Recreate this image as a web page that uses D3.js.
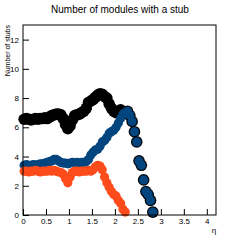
<!DOCTYPE html>
<html>
<head>
<meta charset="utf-8">
<script src="https://cdn.jsdelivr.net/npm/d3@7"></script>
<style>
  body { margin: 0; background: #fff; }
  svg { display: block; font-family: "Liberation Sans", Arial, sans-serif; }
</style>
</head>
<body>
<div id="chart"></div>
<script>
// eta bin centres (step 0.05)
const etaAll = d3.range(0, 57).map(i => +(0.025 + i * 0.05).toFixed(3));

// all modules with a stub (black)
const blackValues = [6.55, 6.6, 6.55, 6.5, 6.55, 6.6, 6.55, 6.6, 6.6, 6.65,
  6.6, 6.7, 6.8, 6.85, 6.9, 6.9, 6.85, 6.6, 6.2, 5.9,
  6.1, 6.5, 6.8, 6.85, 6.9, 7.0, 7.1, 7.3, 7.7, 7.8,
  7.9, 8.05, 8.2, 8.3, 8.25, 8.1, 8.0, 7.6, 7.3, 7.1,
  7.0, 7.1, 7.2, 7.05, 7.0, 7.1, 6.8, 6.4, 5.7, 5.0,
  3.7, 3.4, 2.4, 1.6, 1.4, 1.0, 0.2];

// blue series
const blueValues = [3.4, 3.45, 3.4, 3.4, 3.45, 3.4, 3.45, 3.5, 3.5, 3.55,
  3.6, 3.65, 3.7, 3.8, 3.8, 3.7, 3.6, 3.55, 3.55, 3.5,
  3.55, 3.6, 3.55, 3.6, 3.55, 3.6, 3.6, 3.65, 3.8, 4.1,
  4.3, 4.45, 4.5, 4.7, 5.0, 5.1, 5.3, 5.6, 5.7, 5.8,
  6.0, 6.3, 6.6, 6.9, 7.0, 7.1, 6.8, 6.4, 5.7, 5.0,
  3.7, 3.4, 2.4, 1.6, 1.4, 1.0, 0.2];

// orange series
const orangeValues = [3.0, 3.0, 2.95, 3.0, 3.0, 3.05, 3.0, 2.95, 3.0, 3.0,
  3.0, 3.05, 3.0, 3.05, 3.0, 2.95, 2.9, 2.8, 2.5, 2.2,
  2.6, 2.9, 3.0, 3.0, 2.95, 3.0, 3.0, 3.0, 3.05, 3.0,
  3.1, 3.3, 3.4, 3.35, 3.1, 2.6, 2.2, 1.9, 1.6, 1.4,
  1.3, 1.0, 0.8, 0.4, 0.2];

const xTicks = [0, 0.5, 1, 1.5, 2, 2.5, 3, 3.5, 4];
const xTickLabels = ["0", "0.5", "1", "1.5", "2", "2.5", "3", "3.5", "4"];
const yTicks = [0, 2, 4, 6, 8, 10, 12];

const W = 240, H = 240;
const margin = { top: 25, right: 24, bottom: 25, left: 23 };

const svg = d3.select("#chart").append("svg")
  .attr("width", W)
  .attr("height", H);

const x = d3.scaleLinear().domain([0, 4.2]).range([margin.left, W - margin.right]);
const y = d3.scaleLinear().domain([0, 13]).range([H - margin.bottom, margin.top]);

// title
svg.append("text")
  .attr("x", 120)
  .attr("y", 13)
  .attr("text-anchor", "middle")
  .attr("font-size", "10px")
  .text("Number of modules with a stub");

// markers
function drawSeries(values, color, r) {
  svg.append("g")
    .selectAll("circle")
    .data(values.map((v, i) => [etaAll[i], v]))
    .join("circle")
    .attr("cx", d => x(d[0]))
    .attr("cy", d => y(d[1]))
    .attr("r", r)
    .attr("fill", color);
}
drawSeries(blackValues, "#000000", 5.8);
drawSeries(blueValues, "#03457e", 4.6);
drawSeries(orangeValues, "#fd4c1c", 4.6);

// frame
svg.append("rect")
  .attr("x", x(0))
  .attr("y", y(13))
  .attr("width", x(4.2) - x(0))
  .attr("height", y(0) - y(13))
  .attr("fill", "none")
  .attr("stroke", "#000")
  .attr("stroke-width", 1);

// x axis
const xAxis = svg.append("g").attr("transform", `translate(0,${y(0)})`);
xAxis.call(d3.axisBottom(x).tickValues(d3.range(0, 4.21, 0.1)).tickSize(-3).tickFormat(""));
xAxis.call(d3.axisBottom(x).tickValues(xTicks).tickSize(-6).tickFormat((d, i) => xTickLabels[i]));
xAxis.selectAll(".domain").remove();
xAxis.selectAll("text").attr("font-size", "8px").attr("font-family", "Liberation Sans, Arial, sans-serif").attr("fill", "#000").attr("dy", "0.71em").attr("y", 3);
xAxis.selectAll("line").attr("stroke", "#000");

// y axis
const yAxis = svg.append("g").attr("transform", `translate(${x(0)},0)`);
yAxis.call(d3.axisLeft(y).tickValues(d3.range(0, 13.01, 0.5)).tickSize(-3).tickFormat(""));
yAxis.call(d3.axisLeft(y).tickValues(yTicks).tickSize(-6).tickFormat(d3.format("d")));
yAxis.selectAll(".domain").remove();
yAxis.selectAll("text").attr("font-size", "8px").attr("font-family", "Liberation Sans, Arial, sans-serif").attr("fill", "#000").attr("x", -4);
yAxis.selectAll("line").attr("stroke", "#000");

// axis titles
svg.append("text")
  .attr("transform", `translate(10,${margin.top}) rotate(-90)`)
  .attr("text-anchor", "end")
  .attr("font-size", "7px")
  .text("Number of stubs");

svg.append("text")
  .attr("x", 214)
  .attr("y", 233)
  .attr("text-anchor", "middle")
  .attr("font-size", "8px")
  .text("η");
</script>
</body>
</html>
